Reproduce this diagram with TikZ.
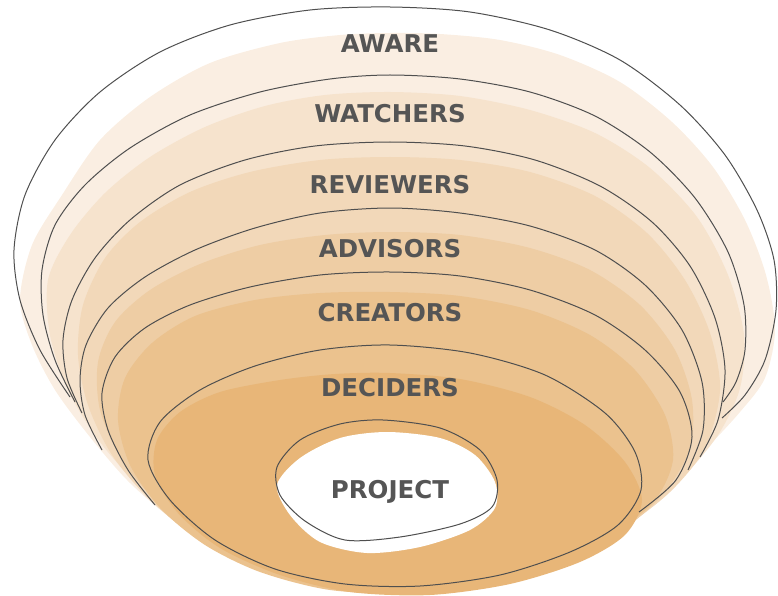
\documentclass[tikz,border=0pt]{standalone}
\usepackage{fontspec}
\setmainfont{DejaVu Sans}
\definecolor{ink}{HTML}{555555}
\definecolor{edge}{HTML}{4F4F4F}
\definecolor{c1}{HTML}{FAEEE2}
\definecolor{c2}{HTML}{F6E3CD}
\definecolor{c3}{HTML}{F2D8B9}
\definecolor{c4}{HTML}{EECDA4}
\definecolor{c5}{HTML}{EBC28E}
\definecolor{c6}{HTML}{E8B678}
\begin{document}
\begin{tikzpicture}[x=1pt,y=-1pt,
      f1/.style={fill=c1},
      f2/.style={fill=c2},
      f3/.style={fill=c3},
      f4/.style={fill=c4},
      f5/.style={fill=c5},
      f6/.style={fill=c6},
      ln/.style={draw=edge,line width=1pt},
      lb/.style={font=\bfseries\fontsize{24.5}{28}\selectfont,text=ink}]
      \useasboundingbox (0,0) rectangle (778,596);
      % fills, outer to inner
      \fill[f1] plot[smooth cycle] coordinates {(390,33) (440,34) (500,40) (560,55) (620,82) (672,122) (713,167) (745,220) (766,275) (775,330) (765,378) (740,412) (705,450) (660,497) (605,538) (535,570) (460,587) (385,591) (310,583) (240,560) (180,525) (130,483) (90,437) (55,390) (32,345) (20,300) (32,245) (62,195) (100,140) (150,97) (210,63) (280,43) (340,35)};
      \fill[f2] plot[smooth cycle] coordinates {(390,92) (460,96) (530,110) (595,133) (650,168) (697,217) (728,275) (744,335) (740,388) (718,435) (680,480) (630,522) (570,555) (500,578) (420,590) (340,587) (265,567) (200,535) (145,492) (100,442) (68,390) (50,335) (48,280) (70,235) (105,193) (150,157) (205,127) (265,106) (325,95)};
      \fill[f3] plot[smooth cycle] coordinates {(390,157) (460,160) (530,172) (595,196) (647,233) (685,280) (710,333) (720,390) (705,448) (670,492) (620,530) (560,560) (490,582) (410,592) (330,588) (260,570) (200,540) (150,500) (112,455) (88,405) (78,355) (83,305) (105,258) (140,222) (190,192) (250,172) (320,160)};
      \fill[f4] plot[smooth cycle] coordinates {(390,232) (460,235) (530,248) (590,270) (640,305) (675,350) (692,400) (690,448) (665,492) (625,528) (570,556) (500,580) (420,592) (340,589) (270,572) (210,544) (160,505) (122,460) (100,410) (98,362) (115,322) (150,290) (200,264) (260,245) (325,235)};
      \fill[f5] plot[smooth cycle] coordinates {(390,292) (460,296) (530,310) (590,335) (635,370) (665,415) (673,460) (655,500) (615,533) (560,560) (490,582) (410,593) (330,590) (260,572) (205,545) (160,508) (130,465) (118,420) (125,378) (152,343) (195,316) (255,300) (320,293)};
      \fill[f6] plot[smooth cycle] coordinates {(390,373) (460,379) (530,397) (585,425) (625,462) (642,500) (625,535) (580,562) (510,584) (430,595) (350,592) (280,575) (220,548) (178,513) (155,475) (157,440) (180,412) (220,392) (280,380) (335,374)};
      \fill[white] plot[smooth cycle] coordinates {(387,432) (440,438) (475,455) (495,482) (495,508) (470,530) (420,547) (367,553) (320,542) (290,515) (277,485) (300,458) (340,438)};
      % outlines
      \draw[ln] plot[smooth] coordinates {(70,397) (40,350) (20,300) (14,250) (25,195) (55,140) (100,92) (160,52) (230,25) (310,10) (390,7) (470,12) (550,30) (620,60) (680,105) (725,155) (757,210) (774,260) (776,310) (765,360) (745,395) (722,418)};
      \draw[ln] plot[smooth] coordinates {(75,402) (55,360) (43,315) (42,270) (55,225) (85,185) (130,148) (190,115) (260,92) (330,79) (390,75) (460,79) (530,92) (595,116) (650,152) (695,198) (728,252) (744,305) (745,350) (736,382) (723,402)};
      \draw[ln] plot[smooth] coordinates {(82,413) (67,378) (63,340) (72,300) (95,258) (130,220) (180,185) (245,160) (315,146) (390,142) (465,146) (535,160) (600,186) (652,222) (690,266) (715,318) (725,370) (718,420) (700,457)};
      \draw[ln] plot[smooth] coordinates {(102,450) (85,415) (80,380) (86,345) (108,308) (145,277) (195,250) (255,228) (320,213) (390,208) (460,213) (530,226) (595,250) (645,285) (682,330) (702,382) (703,430) (688,470)};
      \draw[ln] plot[smooth] coordinates {(155,505) (128,470) (108,430) (102,393) (115,357) (145,328) (190,305) (250,287) (320,275) (390,272) (460,276) (530,290) (595,315) (645,350) (680,392) (692,437) (676,480) (639,512)};
      \draw[ln] plot[smooth cycle] coordinates {(390,345) (470,353) (545,375) (605,413) (635,452) (641,490) (618,525) (570,552) (500,575) (420,586) (345,584) (275,569) (215,540) (170,500) (148,460) (160,422) (200,390) (255,366) (320,350)};
      \draw[ln] plot[smooth cycle] coordinates {(383,420) (440,428) (480,450) (497,480) (492,507) (460,524) (400,537) (345,540) (305,521) (280,495) (277,467) (300,440) (340,424)};
      % labels
      \node[lb] (aware) at (390,44) {AWARE};
      \node[lb] (watchers) at (390,114) {WATCHERS};
      \node[lb] (reviewers) at (390,185) {REVIEWERS};
      \node[lb] (advisors) at (390,249) {ADVISORS};
      \node[lb] (creators) at (390,313) {CREATORS};
      \node[lb] (deciders) at (390,388) {DECIDERS};
      \node[lb] (project) at (390,492) {PROJECT};
\end{tikzpicture}
\end{document}
